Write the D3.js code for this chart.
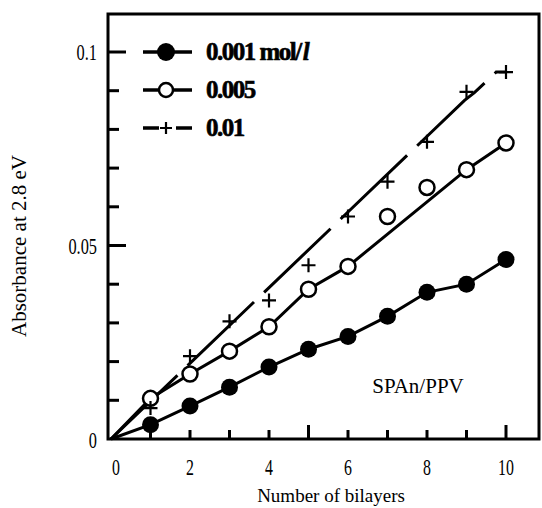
<!DOCTYPE html>
<html>
<head>
<meta charset="utf-8">
<script src="https://cdn.jsdelivr.net/npm/d3@7"></script>
<style>
  body { margin: 0; background: #fff; }
  text { font-family: "Liberation Serif", "DejaVu Serif", serif; fill: #000; }
</style>
</head>
<body>
<div id="vis"></div>
<script>
// data
const layers = [1, 2, 3, 4, 5, 6, 7, 8, 9, 10];
const abs001 = [0.0037, 0.0085, 0.0134, 0.0186, 0.0232, 0.0265, 0.0317, 0.0379, 0.0400, 0.0464];
const abs005 = [0.0105, 0.0168, 0.0227, 0.0290, 0.0387, 0.0446, 0.0575, 0.0650, 0.0696, 0.0765];
const abs01  = [0.0080, 0.0214, 0.0304, 0.0358, 0.0449, 0.0575, 0.0665, 0.0768, 0.0897, 0.0948];

// drawn trend lines (as they appear in the figure)
const fit001X = [0, 1, 2, 3, 4, 5, 6, 7, 8, 9, 10];
const fit001Y = [0, 0.0037, 0.0085, 0.0134, 0.0186, 0.0232, 0.0265, 0.0317, 0.0379, 0.0400, 0.0464];
const fit005X = [0, 1, 2, 3, 4, 5, 6, 9, 10];
const fit005Y = [0, 0.0105, 0.0168, 0.0227, 0.0290, 0.0387, 0.0446, 0.0696, 0.0765];
const fit01X = [0, 8.95, 9.2, 9.75, 10];
const fit01Y = [0, 0.0875, 0.0895, 0.0948, 0.0948];

const legendLabels = ['0.001 mol/', '0.005', '0.01'];
const xTickLabels = [0, 2, 4, 6, 8, 10];
const xTickMarks = [1, 2, 3, 4, 5, 6, 7, 8, 9, 10];
const yTickLabels = [0, 0.05, 0.1];
const yTickMarks = [0.01, 0.02, 0.03, 0.04, 0.05, 0.06, 0.07, 0.08, 0.09, 0.1];

const width = 542;
const height = 508;

const svg = d3.select('#vis').append('svg')
    .attr('width', width)
    .attr('height', height);

const x = d3.scaleLinear().domain([0, 10]).range([111, 506]);
const y = d3.scaleLinear().domain([0, 0.1]).range([439, 52]);

// squeeze serif text a bit, the figure uses narrow type
function squeeze(sel, k) {
    sel.each(function () {
        const w = this.getComputedTextLength();
        d3.select(this).attr('textLength', w * k).attr('lengthAdjust', 'spacingAndGlyphs');
    });
}

// frame
const frameL = 108, frameR = 539, frameT = 14, frameB = 439;
svg.append('rect')
    .attr('x', frameL).attr('y', frameT)
    .attr('width', frameR - frameL).attr('height', frameB - frameT)
    .attr('fill', 'none').attr('stroke', '#000').attr('stroke-width', 3);

// ticks
svg.append('g').selectAll('line')
    .data(xTickMarks)
    .join('line')
    .attr('x1', d => x(d)).attr('x2', d => x(d))
    .attr('y1', frameB).attr('y2', d => frameB - (d % 5 === 0 ? 14 : 9))
    .attr('stroke', '#000').attr('stroke-width', 3);

svg.append('g').selectAll('line')
    .data(yTickMarks)
    .join('line')
    .attr('x1', frameL).attr('x2', d => frameL + (Math.round(d * 100) % 5 === 0 ? 18 : 11))
    .attr('y1', d => y(d)).attr('y2', d => y(d))
    .attr('stroke', '#000').attr('stroke-width', 3);

// tick labels
const xl = svg.append('g').selectAll('text')
    .data(xTickLabels)
    .join('text')
    .attr('x', d => x(d) + (d === 0 ? 5 : 0))
    .attr('y', 475)
    .attr('text-anchor', 'middle')
    .attr('font-size', 24)
    .text(d => d);
squeeze(xl, 0.66);

const yl = svg.append('g').selectAll('text')
    .data(yTickLabels)
    .join('text')
    .attr('x', 97)
    .attr('y', d => y(d) + (d === 0 ? 9 : 8))
    .attr('text-anchor', 'end')
    .attr('font-size', 24)
    .text(d => d);
squeeze(yl, 0.68);

// axis titles
svg.append('text')
    .attr('x', 331).attr('y', 502)
    .attr('text-anchor', 'middle')
    .attr('font-size', 19)
    .text('Number of bilayers');

svg.append('text')
    .attr('transform', 'translate(26,246) rotate(-90)')
    .attr('text-anchor', 'middle')
    .attr('font-size', 21)
    .text('Absorbance at 2.8 eV');

svg.append('text')
    .attr('x', 418).attr('y', 393)
    .attr('text-anchor', 'middle')
    .attr('font-size', 21)
    .text('SPAn/PPV');

// lines
const line = d3.line().x(d => x(d[0])).y(d => y(d[1]));

svg.append('path')
    .attr('d', line(d3.zip(fit001X, fit001Y)))
    .attr('fill', 'none').attr('stroke', '#000').attr('stroke-width', 3);

svg.append('path')
    .attr('d', line(d3.zip(fit005X, fit005Y)))
    .attr('fill', 'none').attr('stroke', '#000').attr('stroke-width', 3);

svg.append('path')
    .attr('d', line(d3.zip(fit01X, fit01Y)))
    .attr('fill', 'none').attr('stroke', '#000').attr('stroke-width', 3)
    .attr('stroke-dasharray', '92,14');

// markers
svg.append('g').selectAll('circle')
    .data(d3.zip(layers, abs001))
    .join('circle')
    .attr('cx', d => x(d[0])).attr('cy', d => y(d[1]))
    .attr('r', 8.5)
    .attr('fill', '#000');

svg.append('g').selectAll('circle')
    .data(d3.zip(layers, abs005))
    .join('circle')
    .attr('cx', d => x(d[0])).attr('cy', d => y(d[1]))
    .attr('r', 7.5)
    .attr('fill', '#fff').attr('stroke', '#000').attr('stroke-width', 2.5);

const cross = 7;
svg.append('g').selectAll('path')
    .data(d3.zip(layers, abs01))
    .join('path')
    .attr('d', d => {
        const cx = x(d[0]), cy = y(d[1]);
        return `M${cx - cross},${cy}H${cx + cross}M${cx},${cy - cross}V${cy + cross}`;
    })
    .attr('stroke', '#000').attr('stroke-width', 2.2).attr('fill', 'none');

// legend
const legY = [52, 90, 128];
const lg = svg.append('g');
lg.append('line').attr('x1', 143).attr('x2', 192).attr('y1', legY[0]).attr('y2', legY[0])
    .attr('stroke', '#000').attr('stroke-width', 3.5);
lg.append('circle').attr('cx', 166).attr('cy', legY[0]).attr('r', 9).attr('fill', '#000');

lg.append('line').attr('x1', 143).attr('x2', 192).attr('y1', legY[1]).attr('y2', legY[1])
    .attr('stroke', '#000').attr('stroke-width', 3.5);
lg.append('circle').attr('cx', 166).attr('cy', legY[1]).attr('r', 7)
    .attr('fill', '#fff').attr('stroke', '#000').attr('stroke-width', 2.5);

lg.append('line').attr('x1', 143).attr('x2', 192).attr('y1', legY[2]).attr('y2', legY[2])
    .attr('stroke', '#000').attr('stroke-width', 3.5)
    .attr('stroke-dasharray', '16,17,16');
lg.append('path')
    .attr('d', `M${166 - 6},${legY[2]}H${166 + 6}M166,${legY[2] - 6}V${legY[2] + 6}`)
    .attr('stroke', '#000').attr('stroke-width', 2.2);

const lt = lg.selectAll('text.leg')
    .data(legendLabels)
    .join('text')
    .attr('class', 'leg')
    .attr('x', 206)
    .attr('y', (d, i) => legY[i] + 8)
    .attr('font-size', 25)
    .attr('font-weight', 'bold')
    .attr('letter-spacing', -1.5)
    .attr('stroke', '#000').attr('stroke-width', 0.6)
    .text(d => d);
lt.filter((d, i) => i === 0)
    .append('tspan')
    .attr('font-style', 'italic')
    .attr('dx', 2)
    .text('l');
</script>
</body>
</html>
